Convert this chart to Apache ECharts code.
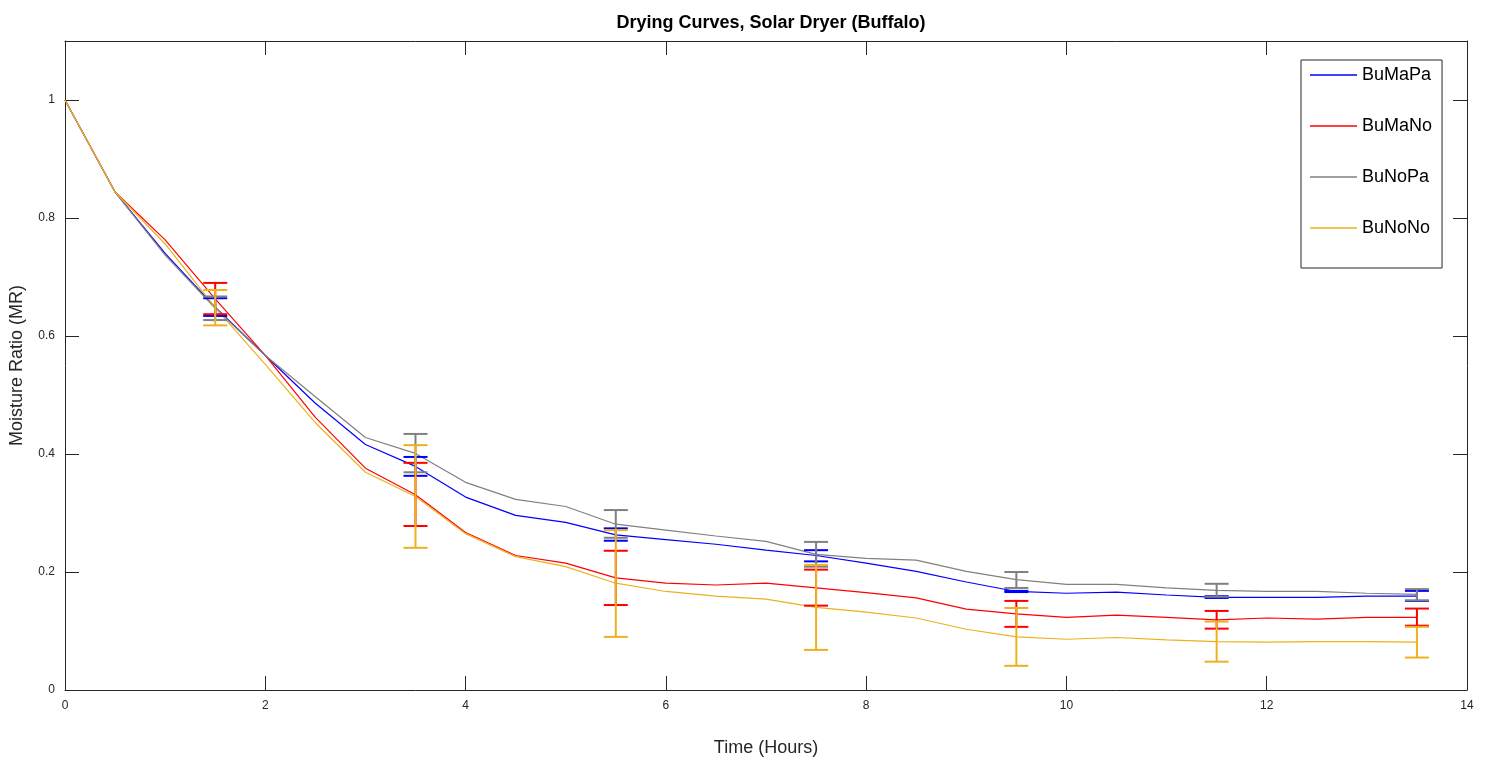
<!DOCTYPE html>
<html>
<head>
<meta charset="utf-8">
<script src="https://cdn.jsdelivr.net/npm/echarts@6/dist/echarts.min.js"></script>
<style>html,body{margin:0;padding:0;background:#fff;}#c{width:1491px;height:762px;}</style>
</head>
<body>
<div id="c"></div>
<script>
const times = [0,0.5,1,1.5,2,2.5,3,3.5,4,4.5,5,5.5,6,6.5,7,7.5,8,8.5,9,9.5,10,10.5,11,11.5,12,12.5,13,13.5];
const buMaPa = [1,0.844,0.740,0.649,0.567,0.486,0.416,0.379,0.327,0.296,0.284,0.263,0.255,0.247,0.237,0.228,0.215,0.201,0.183,0.167,0.164,0.166,0.161,0.157,0.157,0.157,0.159,0.159];
const buMaNo = [1,0.844,0.763,0.663,0.567,0.462,0.376,0.331,0.267,0.228,0.215,0.190,0.181,0.178,0.181,0.173,0.165,0.156,0.137,0.129,0.123,0.127,0.123,0.119,0.122,0.120,0.123,0.123];
const buNoPa = [1,0.844,0.737,0.647,0.567,0.497,0.428,0.401,0.352,0.323,0.311,0.281,0.271,0.261,0.252,0.230,0.223,0.220,0.201,0.187,0.179,0.179,0.173,0.169,0.167,0.167,0.164,0.162];
const buNoNo = [1,0.844,0.756,0.648,0.552,0.453,0.369,0.328,0.265,0.226,0.209,0.181,0.167,0.159,0.154,0.140,0.132,0.122,0.103,0.090,0.086,0.089,0.085,0.082,0.081,0.082,0.082,0.081];

const errTimes = [1.5,3.5,5.5,7.5,9.5,11.5,13.5];
const buMaPaLow  = [0.634,0.363,0.253,0.218,0.166,0.156,0.151];
const buMaPaHigh = [0.664,0.395,0.274,0.237,0.168,0.159,0.168];
const buMaNoLow  = [0.637,0.278,0.144,0.143,0.107,0.104,0.109];
const buMaNoHigh = [0.690,0.385,0.236,0.204,0.151,0.134,0.138];
const buNoPaLow  = [0.627,0.369,0.258,0.209,0.173,0.158,0.152];
const buNoPaHigh = [0.667,0.434,0.305,0.251,0.200,0.180,0.171];
const buNoNoLow  = [0.618,0.241,0.090,0.068,0.041,0.048,0.055];
const buNoNoHigh = [0.678,0.415,0.271,0.212,0.139,0.116,0.107];

const xTicks = [0,2,4,6,8,10,12,14];
const yTicks = [0,0.2,0.4,0.6,0.8,1];

const names = ['BuMaPa','BuMaNo','BuNoPa','BuNoNo'];
const colors = ['#0000FF','#FF0000','#808080','#EDB120'];
const lines = [buMaPa, buMaNo, buNoPa, buNoNo];
const lows = [buMaPaLow, buMaNoLow, buNoPaLow, buNoNoLow];
const highs = [buMaPaHigh, buMaNoHigh, buNoPaHigh, buNoNoHigh];

const axisColor = '#262626';
const font = 'Arial, "Liberation Sans", Helvetica, sans-serif';

const series = [];
names.forEach((n, i) => {
  series.push({
    name: n, type: 'line', symbol: 'none', z: 2,
    data: times.map((t, k) => [t, lines[i][k]]),
    lineStyle: {color: colors[i], width: 1.2},
    itemStyle: {color: colors[i]},
    animation: false
  });
});
names.forEach((n, i) => {
  series.push({
    name: n + '_err', type: 'custom', z: 3 + i,
    data: errTimes.map((t, k) => [t, lows[i][k], highs[i][k]]),
    renderItem: function (params, api) {
      const x = api.value(0);
      const lo = api.coord([x, api.value(1)]);
      const hi = api.coord([x, api.value(2)]);
      const hw = 12;
      const st = {stroke: colors[i], lineWidth: 2};
      return {
        type: 'group',
        children: [
          {type: 'line', shape: {x1: lo[0], y1: lo[1], x2: hi[0], y2: hi[1]}, style: st},
          {type: 'line', shape: {x1: lo[0] - hw, y1: lo[1], x2: lo[0] + hw, y2: lo[1]}, style: st},
          {type: 'line', shape: {x1: hi[0] - hw, y1: hi[1], x2: hi[0] + hw, y2: hi[1]}, style: st}
        ]
      };
    },
    encode: {x: 0, y: [1, 2]},
    animation: false
  });
});

const chart = echarts.init(document.getElementById('c'));
chart.setOption({
  backgroundColor: '#fff',
  animation: false,
  textStyle: {fontFamily: font},
  title: {
    text: 'Drying Curves, Solar Dryer (Buffalo)',
    left: 766, top: 9, textAlign: 'center',
    textStyle: {fontSize: 18, fontWeight: 'bold', color: '#000', fontFamily: font}
  },
  legend: {
    data: names,
    orient: 'vertical',
    left: 1301, top: 60,
    itemWidth: 47, itemHeight: 14, itemGap: 33,
    padding: [6, 10, 31, 9],
    borderColor: axisColor, borderWidth: 1,
    backgroundColor: '#fff',
    textStyle: {fontSize: 18, color: '#000', fontFamily: font},
    icon: 'path://M0,0 L47,0 L47,1.5 L0,1.5 Z'
  },
  grid: {left: 65, right: 24, top: 41, bottom: 71, containLabel: false},
  xAxis: [{
    type: 'value', min: 0, max: 14, interval: 2,
    name: 'Time (Hours)', nameLocation: 'middle', nameGap: 49,
    nameTextStyle: {fontSize: 18, color: axisColor, fontFamily: font},
    axisLine: {show: true, onZero: false, lineStyle: {color: axisColor, width: 1}},
    axisTick: {show: true, inside: true, length: 14, lineStyle: {color: axisColor}},
    axisLabel: {fontSize: 12, color: axisColor, margin: 10, fontFamily: font},
    splitLine: {show: false}
  }, {
    type: 'value', min: 0, max: 14, interval: 2, position: 'top',
    axisLine: {show: true, onZero: false, lineStyle: {color: axisColor, width: 1}},
    axisTick: {show: true, inside: true, length: 14, lineStyle: {color: axisColor}},
    axisLabel: {show: false},
    splitLine: {show: false}
  }],
  yAxis: [{
    type: 'value', min: 0, max: 1.1, interval: 0.2,
    name: 'Moisture Ratio (MR)', nameLocation: 'middle', nameGap: 39,
    nameTextStyle: {fontSize: 18, color: axisColor, fontFamily: font},
    axisLine: {show: true, onZero: false, lineStyle: {color: axisColor, width: 1}},
    axisTick: {show: true, inside: true, length: 14, lineStyle: {color: axisColor}},
    axisLabel: {fontSize: 12, color: axisColor, margin: 10, fontFamily: font,
      formatter: function (v) { return yTicks.some(t => Math.abs(t - v) < 1e-9) ? String(+v.toFixed(1)) : ''; }},
    splitLine: {show: false}
  }, {
    type: 'value', min: 0, max: 1.1, interval: 0.2, position: 'right',
    axisLine: {show: true, onZero: false, lineStyle: {color: axisColor, width: 1}},
    axisTick: {show: true, inside: true, length: 14, lineStyle: {color: axisColor}},
    axisLabel: {show: false},
    splitLine: {show: false}
  }],
  series: series
});
</script>
</body>
</html>
